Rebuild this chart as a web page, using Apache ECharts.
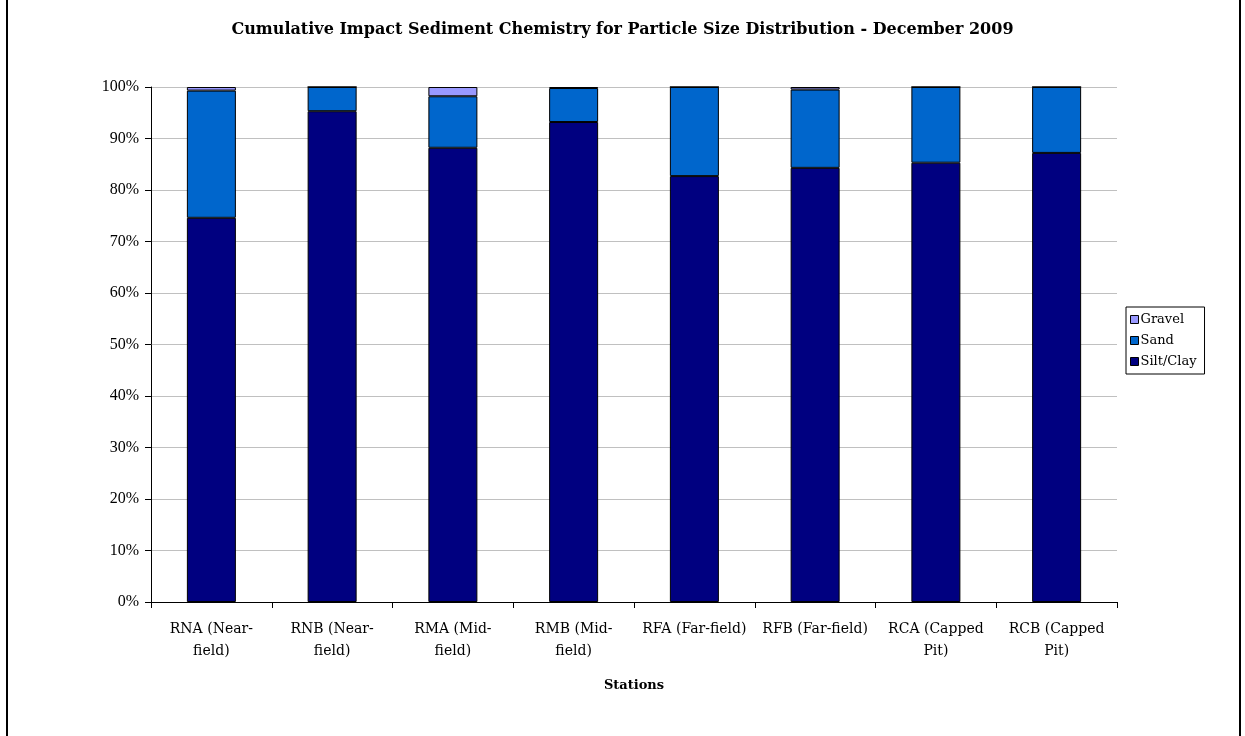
<!DOCTYPE html>
<html>
<head>
<meta charset="utf-8">
<script src="https://cdn.jsdelivr.net/npm/echarts@6/dist/echarts.min.js"></script>
<style>
  html, body { margin: 0; padding: 0; background: #fff; }
  #chart { width: 1245px; height: 736px; }
</style>
</head>
<body>
<div id="chart"></div>
<script>
// Station names (line breaks as printed under the axis)
const stations = [
  'RNA (Near-\nfield)', 'RNB (Near-\nfield)', 'RMA (Mid-\nfield)', 'RMB (Mid-\nfield)',
  'RFA (Far-field)', 'RFB (Far-field)', 'RCA (Capped\nPit)', 'RCB (Capped\nPit)'
];
// Particle size fractions, percent of sample
const siltClay = [74.6, 95.3, 88.2, 93.2, 82.7, 84.3, 85.3, 87.2];
const sand     = [24.7,  4.7, 10.0,  6.6, 17.3, 15.2, 14.7, 12.8];
const gravel   = [ 0.7,  0.0,  1.8,  0.2,  0.0,  0.5,  0.0,  0.0];
const yTicks = { min: 0, max: 100, step: 10 };

const wideSerif = '"DejaVu Serif", serif';
const narrowSerif = '"Liberation Serif", serif';

const chart = echarts.init(document.getElementById('chart'), null, { renderer: 'canvas' });

function barSeries(name, data, color) {
  return {
    name: name,
    type: 'bar',
    stack: 'total',
    data: data,
    barWidth: 49,
    itemStyle: { color: color, borderColor: '#000', borderWidth: 1 }
  };
}

chart.setOption({
  animation: false,
  backgroundColor: '#fff',
  title: {
    text: 'Cumulative Impact Sediment Chemistry for Particle Size Distribution - December 2009',
    left: 'center',
    top: 17,
    textStyle: { fontFamily: wideSerif, fontSize: 16, fontWeight: 'bold', color: '#000' }
  },
  legend: {
    orient: 'vertical',
    left: 1126,
    top: 307,
    data: ['Gravel', 'Sand', 'Silt/Clay'],
    itemWidth: 8,
    itemHeight: 8,
    itemGap: 8,
    padding: [6, 8, 6, 4],
    borderColor: '#000',
    borderWidth: 1,
    icon: 'rect',
    itemStyle: { borderColor: '#000', borderWidth: 1 },
    textStyle: { fontFamily: wideSerif, fontSize: 13, color: '#000', padding: [0, 0, 0, -3] }
  },
  grid: { left: 151, right: 128, top: 87, bottom: 134 },
  xAxis: {
    type: 'category',
    data: stations,
    name: 'Stations',
    nameLocation: 'middle',
    nameGap: 77,
    nameTextStyle: { fontFamily: wideSerif, fontSize: 13, fontWeight: 'bold', color: '#000', verticalAlign: 'top' },
    axisLine: { lineStyle: { color: '#000', width: 1 } },
    axisTick: { show: true, length: 6, lineStyle: { color: '#000' } },
    axisLabel: { fontFamily: wideSerif, fontSize: 14, color: '#000', lineHeight: 22, margin: 16, interval: 0 }
  },
  yAxis: {
    type: 'value',
    min: yTicks.min,
    max: yTicks.max,
    interval: yTicks.step,
    axisLine: { show: true, lineStyle: { color: '#000', width: 1 } },
    axisTick: { show: true, length: 6, lineStyle: { color: '#000' } },
    axisLabel: { fontFamily: narrowSerif, fontSize: 16, color: '#000', margin: 12, formatter: '{value}%' },
    splitLine: { show: true, lineStyle: { color: '#c0c0c0', width: 1 } }
  },
  series: [
    barSeries('Silt/Clay', siltClay, '#000080'),
    barSeries('Sand', sand, '#0066cc'),
    barSeries('Gravel', gravel, '#9999ff')
  ],
  graphic: [
    {
      type: 'rect',
      silent: true,
      shape: { x: 7, y: -10, width: 1233, height: 760 },
      style: { fill: 'none', stroke: '#000', lineWidth: 2 }
    }
  ]
});
</script>
</body>
</html>
